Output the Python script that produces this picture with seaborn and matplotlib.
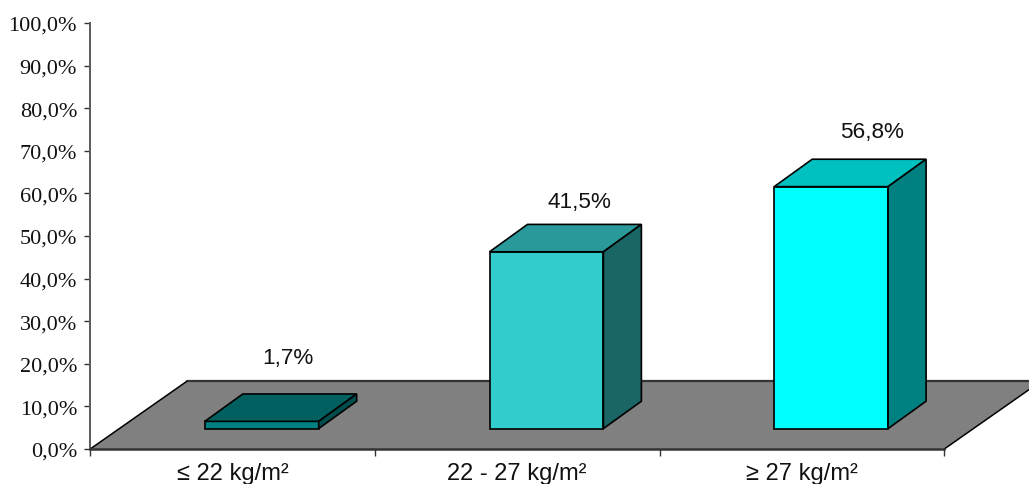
import matplotlib
matplotlib.use("Agg")
import matplotlib.pyplot as plt
import seaborn as sns
import pandas as pd
from matplotlib.patches import Polygon
from matplotlib.transforms import Affine2D, IdentityTransform

categories = ["≤ 22 kg/m²", "22 - 27 kg/m²", "≥ 27 kg/m²"]
shares = [1.7, 41.5, 56.8]
value_labels = ["1,7%", "41,5%", "56,8%"]
front_colors = ["#008080", "#33CCCC", "#00FFFF"]
top_colors = ["#006060", "#299999", "#00C0C0"]
side_colors = ["#004D4D", "#1A6666", "#008080"]
y_ticks = list(range(0, 101, 10))

# Label placement relative to the back-top edge of each bar, in pixels
label_dx = [26.5, 33, 41]
label_dy = [36, 23, 28]

W, H = 1029, 485
LEFT, RIGHT, TOP, BASE = 90.2, 944.3, 24.0, 450.0   # plot frame in pixels from top-left
DEPTH_X, DEPTH_Y = 38, 27.4      # bar depth in pixels
FLOOR_X, FLOOR_Y = 96.5, 67.6    # floor depth in pixels
OFF_X, OFF_Y = 29.2, 20.4        # bars stand partway back on the floor
EDGE = "#000000"

sns.set_theme(style="white")
plt.rcParams["font.family"] = ["Liberation Serif", "DejaVu Sans"]

fig = plt.figure(figsize=(W / 100, H / 100), dpi=100, facecolor="white")
ax = fig.add_axes([LEFT / W, (H - BASE) / H, (RIGHT - LEFT) / W, (BASE - TOP) / H])

data = pd.DataFrame({"group": categories, "share": shares})

sns.barplot(data=data, x="group", y="share", hue="group", palette=front_colors,
            legend=False, width=0.4, dodge=False, ax=ax,
            edgecolor=EDGE, linewidth=1.2, saturation=1, zorder=3)
ax.set_xlim(-0.5, 2.5)
ax.set_ylim(0, 100)
fig.canvas.draw()

screen = IdentityTransform()
shift = Affine2D().translate(OFF_X, OFF_Y)


def pixels(x, y):
    return ax.transData.transform((x, y))


# Floor parallelogram, running past the right edge of the canvas
x0, y0 = pixels(-0.5, 0)
x1, _ = pixels(2.5, 0)
ax.add_artist(Polygon([(x0, y0), (x1, y0), (x1 + FLOOR_X, y0 + FLOOR_Y),
                       (x0 + FLOOR_X, y0 + FLOOR_Y)],
                      closed=True, facecolor="#808080", edgecolor="none",
                      transform=screen, clip_on=False, zorder=1))
ax.plot([x0 + FLOOR_X, x1 + FLOOR_X], [y0 + FLOOR_Y, y0 + FLOOR_Y],
        color="#333333", lw=1.6, transform=screen, clip_on=False, zorder=1.5)
ax.plot([x0, x0 + FLOOR_X], [y0, y0 + FLOOR_Y], color="black", lw=1.1,
        transform=screen, clip_on=False, zorder=1.5)
ax.plot([x1, x1 + FLOOR_X], [y0, y0 + FLOOR_Y], color="black", lw=1.1,
        transform=screen, clip_on=False, zorder=1.5)

# Top and side faces follow from each bar's front rectangle
for bar, top_c, side_c, label, dx, dy in zip(ax.patches, top_colors, side_colors,
                                             value_labels, label_dx, label_dy):
    bar.set_transform(ax.transData + shift)
    bar.set_clip_on(False)
    left, bottom = pixels(bar.get_x(), 0)
    right, top = pixels(bar.get_x() + bar.get_width(), bar.get_height())
    left, right = left + OFF_X, right + OFF_X
    bottom, top = bottom + OFF_Y, top + OFF_Y
    ax.add_artist(Polygon([(left, top), (right, top),
                           (right + DEPTH_X, top + DEPTH_Y), (left + DEPTH_X, top + DEPTH_Y)],
                          closed=True, facecolor=top_c, edgecolor=EDGE, lw=1.2,
                          transform=screen, clip_on=False, zorder=3))
    ax.add_artist(Polygon([(right, bottom), (right + DEPTH_X, bottom + DEPTH_Y),
                           (right + DEPTH_X, top + DEPTH_Y), (right, top)],
                          closed=True, facecolor=side_c, edgecolor=EDGE, lw=1.2,
                          transform=screen, clip_on=False, zorder=3))
    ax.text((left + right) / 2 + dx, top + DEPTH_Y + dy, label, transform=screen,
            ha="center", va="center", fontsize=16.2, color="#111111",
            family=["Liberation Sans"], zorder=4)

sns.despine(ax=ax)
for side in ("left", "bottom"):
    ax.spines[side].set_zorder(2)
ax.spines["left"].set_color("#5A5A5A")
ax.spines["left"].set_linewidth(1.4)
ax.spines["bottom"].set_color("#333333")
ax.spines["bottom"].set_linewidth(1.8)

ax.set_xlabel("")
ax.set_ylabel("")
ax.set_yticks(y_ticks)
ax.set_yticklabels([f"{t},0%" for t in y_ticks], fontsize=16, color="#111111")
ax.set_xticks([-0.5, 0.5, 1.5, 2.5])
ax.set_xticklabels([])
ax.tick_params(axis="y", length=4.5, width=1.0, color="#333333", pad=5, left=True)
ax.tick_params(axis="x", length=5, width=1.0, color="#333333", bottom=True)

for i, cat in enumerate(categories):
    ax.text(i, -5.6, cat, ha="center", va="center", fontsize=17, color="#111111",
            family=["Liberation Sans", "DejaVu Sans"], clip_on=False)

fig.savefig("out.png", dpi=100)
